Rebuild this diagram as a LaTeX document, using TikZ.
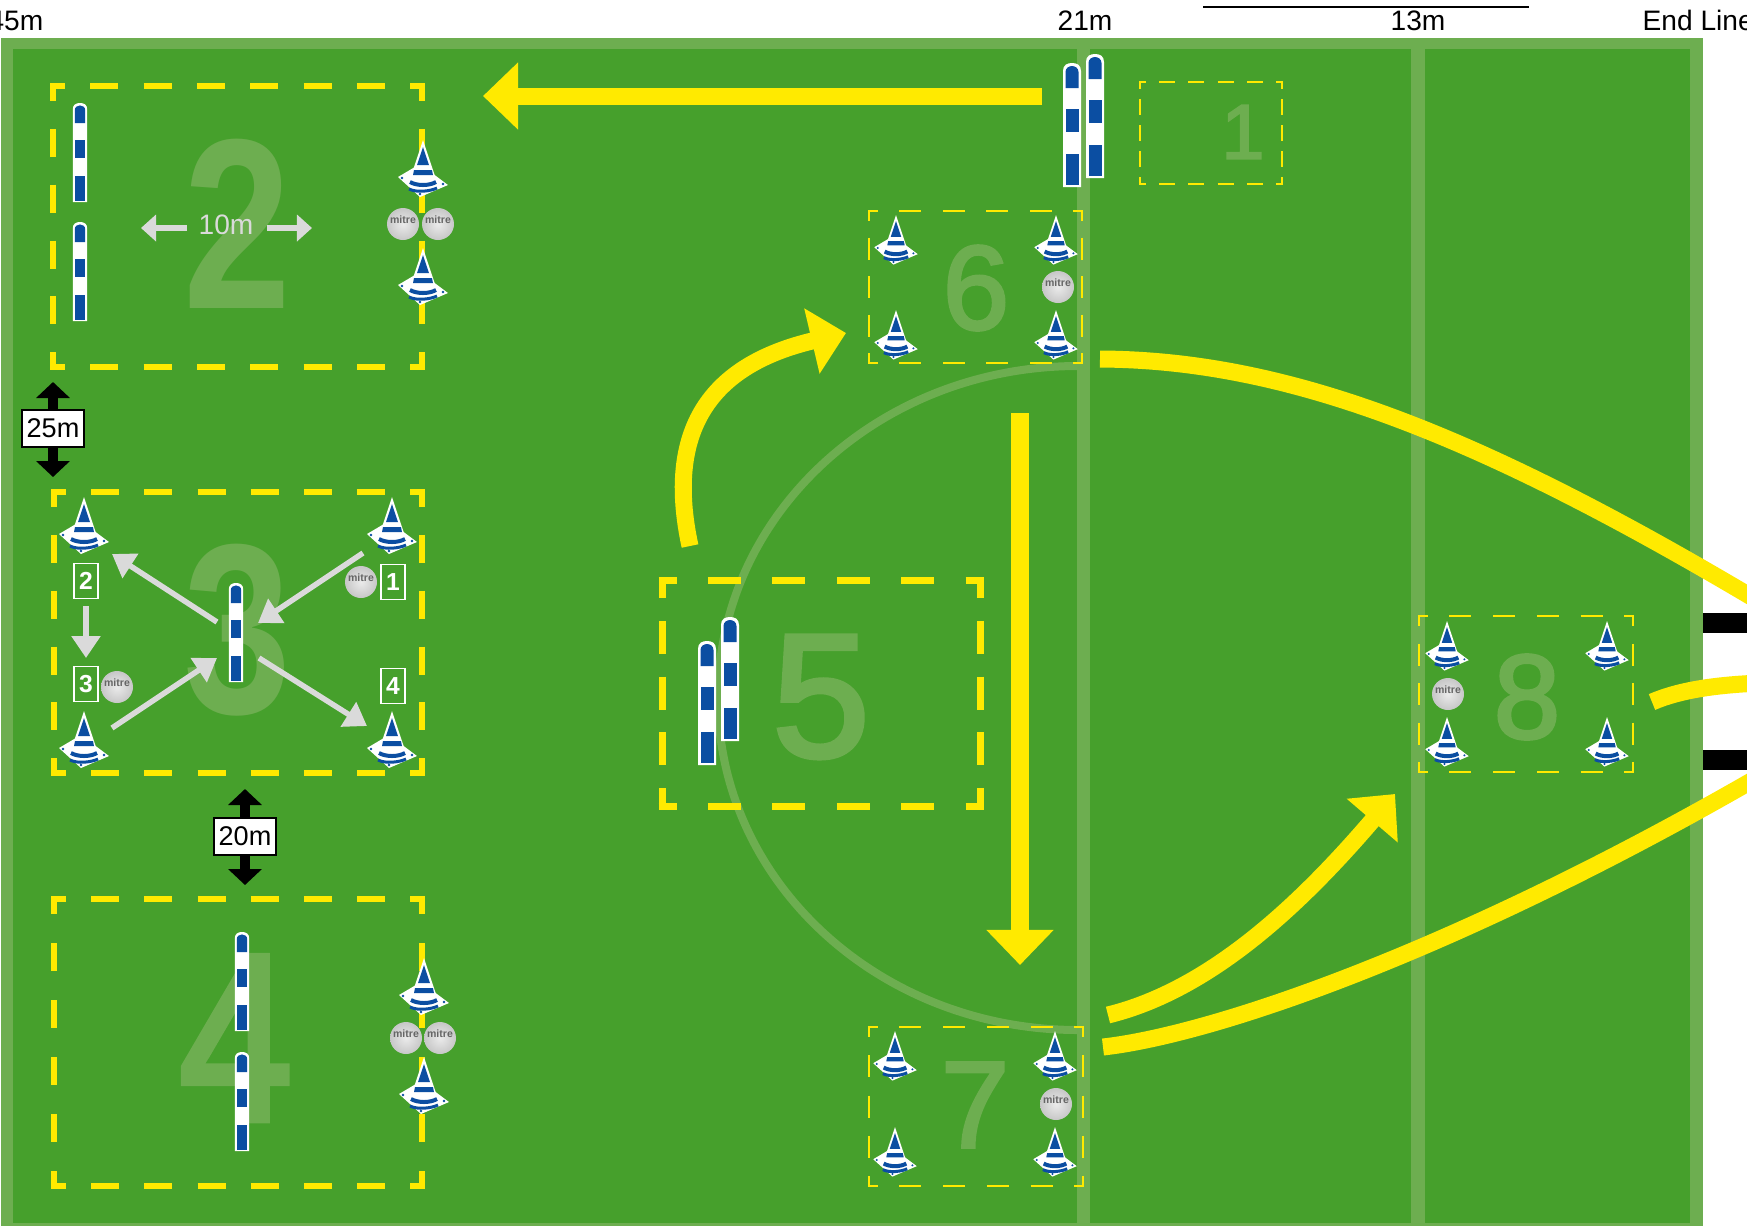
\documentclass[tikz,border=0pt]{standalone}
\usepackage{fontspec}
\setsansfont{Liberation Sans}
\newfontfamily\pitchnumfont[FakeBold=2.5]{Liberation Sans}
\usetikzlibrary{arrows.meta}
\definecolor{pitch}{HTML}{46A02C}
\definecolor{pitchline}{HTML}{6DAE50}
\definecolor{runyellow}{HTML}{FFEA00}
\definecolor{passgrey}{HTML}{DADADA}
\definecolor{kitblue}{HTML}{0B4EA2}
\newcommand{\drillbox}[9]{%
\pgfmathsetmacro{\dashpt}{#8*0.28453}%
\pgfmathsetmacro{\gapxpt}{((#3-#1+#9)-2*#7-#5*#8)/(#5+1)*0.28453}%
\pgfmathsetmacro{\gapypt}{((#4-#2)-2*#7-#6*#8)/(#6+1)*0.28453}%
\pgfmathsetmacro{\phasept}{(#8-#7)*0.28453}%
\begin{scope}[draw=runyellow,line width=#9*0.01cm]
\draw[dash pattern=on \dashpt pt off \gapxpt pt,dash phase=\phasept pt] (#1-#9/2,#2) -- (#3+#9/2,#2);
\draw[dash pattern=on \dashpt pt off \gapxpt pt,dash phase=\phasept pt] (#1-#9/2,#4) -- (#3+#9/2,#4);
\draw[dash pattern=on \dashpt pt off \gapypt pt,dash phase=\phasept pt] (#1,#2) -- (#1,#4);
\draw[dash pattern=on \dashpt pt off \gapypt pt,dash phase=\phasept pt] (#3,#2) -- (#3,#4);
\end{scope}}
\begin{document}
\begin{tikzpicture}[x=0.01cm,y=-0.01cm,font=\sffamily,
marklabel/.style={inner sep=0,text=black,font=\sffamily\fontsize{8}{10}\selectfont},
bigbold/.style={inner sep=0,text=pitchline,font=\sffamily\bfseries\fontsize{#1}{#1}\selectfont},
bignum/.style={inner sep=0,text=pitchline,font=\pitchnumfont\fontsize{#1}{#1}\selectfont},
runline/.style={draw=runyellow,line width=.17cm},
runarrow/.style={runline,-{Triangle[length=.35cm,width=.65cm]}},
passarrow/.style={draw=passgrey,line width=.055cm,-{Triangle[length=.22cm,width=.28cm]}},
gaparrow/.style={draw=black,line width=.09cm,{Triangle[length=.16cm,width=.33cm]}-{Triangle[length=.16cm,width=.33cm]}},
gaplabel/.style={draw=black,fill=white,line width=.02cm,minimum width=.62cm,minimum height=.37cm,inner sep=0,font=\sffamily\fontsize{7.7}{9}\selectfont},
orderbox/.style={draw=white,line width=.018cm,minimum width=.24cm,minimum height=.35cm,inner sep=0,text=white,font=\sffamily\bfseries\fontsize{7}{8}\selectfont},
cone/.pic={
\fill[white] (-25,37) -- (-3,24) -- (25,45) -- (-3,57) -- cycle;
\fill[white] (0,0) -- (-14,42) .. controls (-6,48) and (6,48) .. (14,42) -- cycle;
\fill[kitblue] (0,7) -- (-6,25) -- (6,25) -- cycle;
\fill[kitblue] (-9,30) -- (9,30) -- (10,35) -- (-10,35) -- cycle;
\draw[kitblue,line width=.04cm] (-13,42) .. controls (-6,46) and (6,46) .. (13,42);
\draw[kitblue,line width=.03cm] (-14,49) .. controls (-6,53) and (8,51) .. (14,48);
\fill[kitblue] (-21,38) circle (1.3) (20,44) circle (1.3) (-3,54) circle (1.3);
},
ball/.pic={
\shade[inner color=white!92!black,outer color=black!22] (0,0) circle (16);
\node[inner sep=0,text=black!60,font=\sffamily\bfseries\fontsize{3}{3}\selectfont] (balllogo) at (0,-4) {mitre};
},
pole/.pic={
\fill[white] (-9,124) -- (-9,8) .. controls (-9,2) and (-5,0) .. (0,0) .. controls (5,0) and (9,2) .. (9,8) -- (9,124) -- cycle;
\fill[kitblue] (-6.5,25) -- (-6.5,9) .. controls (-6.5,5) and (-3,3) .. (0,3) .. controls (3,3) and (6.5,5) .. (6.5,9) -- (6.5,25) -- cycle;
\fill[kitblue] (-6.5,46) rectangle (6.5,69);
\fill[kitblue] (-6.5,91) rectangle (6.5,122);
}]
\path[use as bounding box,clip] (0,0) rectangle (1747,1226);
\fill[white] (0,0) rectangle (1747,1226);
\fill[black] (1690,613) rectangle (1747,633);
\fill[black] (1690,750) rectangle (1747,770);
\fill[pitchline] (1,38) rectangle (1703,1226);
\fill[pitch] (13,49) rectangle (1690,1223);
\fill[pitchline] (1077,49) rectangle (1090,1226);
\fill[pitchline] (1411,49) rectangle (1425,1226);
\draw[pitchline,line width=.08cm] (1078,366) arc[start angle=-90,end angle=-270,x radius=360,y radius=332];
\node[marklabel,anchor=base east] (mark45) at (44,30) {45m};
\node[marklabel,anchor=base] (mark21) at (1085,30) {21m};
\node[marklabel,anchor=base] (mark13) at (1418,30) {13m};
\node[marklabel,anchor=base west] (markend) at (1642,30) {End Line};
\draw[black,line width=.025cm] (1203,7) -- (1529,7);
\node[bignum=22] (num1) at (1243,132) {1};
\node[bigbold=69] (num2) at (237,224) {\scalebox{.8}[1]{2}};
\node[bigbold=69] (num3) at (237,630) {\scalebox{.8}[1]{3}};
\node[bignum=68] (num4) at (236,1038) {\scalebox{.86}[1]{4}};
\node[bignum=50] (num5) at (821,697) {5};
\node[bignum=34] (num6) at (976,288) {6};
\node[bignum=35] (num7) at (975,1105) {7};
\node[bignum=34] (num8) at (1527,697) {8};
\drillbox{1140}{82}{1282}{184}{4}{3}{7}{16}{2}
\drillbox{53}{86}{422}{367}{6}{4}{15}{28}{6}
\drillbox{54}{492}{422}{773}{6}{4}{15}{28}{6}
\drillbox{54}{899}{422}{1186}{6}{4}{15}{28}{6}
\drillbox{662}{580}{980}{806}{4}{3}{18}{33}{7}
\drillbox{869}{211}{1082}{363}{4}{3}{10}{22}{2.5}
\drillbox{869}{1027}{1083}{1186}{4}{3}{10}{22}{2.5}
\drillbox{1419}{616}{1633}{772}{4}{3}{10}{22}{2.5}
\draw[runarrow] (1042,96) -- (483,96);
\draw[runarrow] (690,546) .. controls (665,430) and (710,365) .. (846,333);
\draw[runarrow] (1020,413) -- (1020,965);
\draw[runarrow] (1108,1015) .. controls (1210,990) and (1300,905) .. (1395,794);
\draw[runline] (1103,1047) .. controls (1210,1035) and (1450,955) .. (1760,776);
\draw[runline] (1100,359) .. controls (1300,360) and (1500,445) .. (1790,620);
\draw[runline] (1652,702) .. controls (1680,690) and (1715,685) .. (1760,683);
\foreach \x/\y in {1095/54,1072/63,730/617,707/641}
\pic at (\x,\y) {pole};
\foreach \x/\y in {80/103,80/222,236/583,242/932,242/1052}
\pic[scale=.8] at (\x,\y) {pole};
\foreach \x/\y in {423/140,423/248,84/497,392/497,84/711,392/711,424/958,424/1057}
\pic at (\x,\y) {cone};
\foreach \x/\y in {896/215,1056/215,896/310,1056/310,895/1031,1055/1031,895/1127,1055/1127,1447/621,1607/621,1447/717,1607/717}
\pic[scale=.87] at (\x,\y) {cone};
\foreach \x/\y in {403/224,438/224,361/582,117/687,406/1038,440/1038,1058/287,1056/1104,1448/694}
\pic at (\x,\y) {ball};
\node[orderbox] (order1) at (393,582) {1};
\node[orderbox] (order2) at (86,581) {2};
\node[orderbox] (order3) at (86,684) {3};
\node[orderbox] (order4) at (393,686) {4};
\draw[passarrow] (363,553) -- (258,623);
\draw[passarrow] (217,622) -- (112,554);
\draw[passarrow] (112,728) -- (217,658);
\draw[passarrow] (259,658) -- (367,726);
\draw[passarrow] (86,606) -- (86,658);
\node[inner sep=0,text=passgrey,font=\sffamily\fontsize{8}{10}\selectfont] (tenm) at (226,225) {10m};
\draw[passarrow,-{Triangle[length=.15cm,width=.26cm]}] (187,228) -- (141,228);
\draw[passarrow,-{Triangle[length=.15cm,width=.26cm]}] (267,228) -- (312,228);
\draw[gaparrow] (53,382) -- (53,477);
\node[gaplabel] (gap25) at (53,428) {25m};
\draw[gaparrow] (245,789) -- (245,885);
\node[gaplabel] (gap20) at (245,836) {20m};
\end{tikzpicture}
\end{document}
